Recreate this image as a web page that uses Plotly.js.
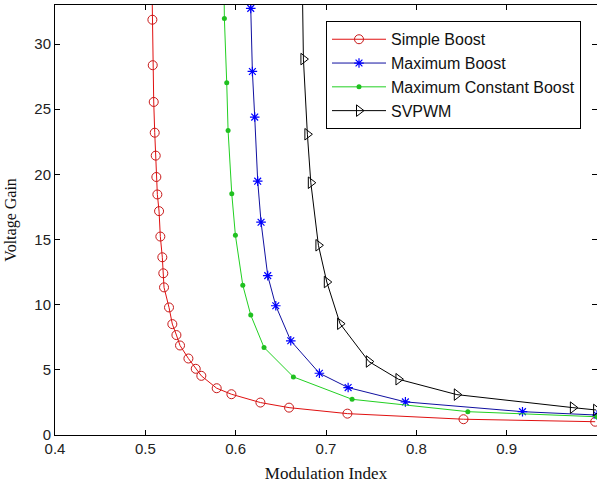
<!DOCTYPE html>
<html>
<head>
<meta charset="utf-8">
<script src="https://cdn.plot.ly/plotly-3.0.1.min.js"></script>
<style>html,body{margin:0;padding:0;background:#fff;}#chart{width:597px;height:484px;}</style>
</head>
<body>
<div id="chart"></div>
<script>
// Simple Boost
var simpleM = [0.5066, 0.5078, 0.5082, 0.5093, 0.5104, 0.5115, 0.5122, 0.5133, 0.5152, 0.5166, 0.5188, 0.5199, 0.5207, 0.5262, 0.5299, 0.5344, 0.5384, 0.5477, 0.5558, 0.562, 0.579, 0.5953, 0.6274, 0.6591, 0.7237, 0.8522, 0.998];
var simpleG = [38, 31.87, 28.38, 25.56, 23.2, 21.44, 19.8, 18.46, 17.18, 15.23, 13.64, 12.41, 11.33, 9.79, 8.51, 7.67, 6.87, 5.87, 5.08, 4.54, 3.59, 3.13, 2.49, 2.1, 1.64, 1.21, 1.02];
// Maximum Boost
var maxM = [0.6155, 0.6167, 0.6185, 0.6211, 0.6244, 0.6281, 0.6355, 0.6444, 0.661, 0.6927, 0.7245, 0.7879, 0.9175, 1.0];
var maxG = [36, 32.74, 27.9, 24.4, 19.48, 16.33, 12.23, 9.92, 7.23, 4.74, 3.64, 2.54, 1.79, 1.53];
// Maximum Constant Boost
var mcbM = [0.5868, 0.5875, 0.5901, 0.5916, 0.5957, 0.5997, 0.6079, 0.6167, 0.6314, 0.6639, 0.7289, 0.857, 1.0];
var mcbG = [36, 31.97, 27.03, 23.36, 18.51, 15.33, 11.49, 9.2, 6.72, 4.46, 2.74, 1.79, 1.4];
// SVPWM
var svM = [0.6735, 0.675, 0.6794, 0.6832, 0.6916, 0.7009, 0.7156, 0.7474, 0.7802, 0.8448, 0.9733, 0.999];
var svG = [36, 28.85, 23.08, 19.36, 14.56, 11.74, 8.54, 5.64, 4.28, 3.1, 2.1, 1.92];

var names = ["Simple Boost", "Maximum Boost", "Maximum Constant Boost", "SVPWM"];

var traces = [
  {x: simpleM, y: simpleG, name: names[0], mode: "lines+markers",
   line: {color: "#e01010", width: 1},
   marker: {symbol: "circle-open", size: 9, color: "#c81818", line: {width: 1}}},
  {x: maxM, y: maxG, name: names[1], mode: "lines+markers",
   line: {color: "#1010a0", width: 1},
   marker: {symbol: "asterisk-open", size: 8, color: "#0000ff", line: {width: 1.2, color: "#0000ee"}}},
  {x: mcbM, y: mcbG, name: names[2], mode: "lines+markers",
   line: {color: "#22d022", width: 1},
   marker: {symbol: "circle", size: 5, color: "#20c020"}},
  {x: svM, y: svG, name: names[3], mode: "lines+markers",
   line: {color: "#000000", width: 1},
   marker: {symbol: "triangle-right-open", size: 10, color: "#000000", line: {width: 1}}}
];

var axisCommon = {
  showline: true, linecolor: "#000", linewidth: 1, mirror: "ticks",
  ticks: "inside", ticklen: 5, tickcolor: "#000", showgrid: false, zeroline: false,
  tickfont: {family: "Liberation Sans, Arial, sans-serif", size: 15, color: "#222"}
};

var layout = {
  width: 597, height: 484,
  margin: {l: 55, r: 0, t: 5, b: 49},
  paper_bgcolor: "#fff", plot_bgcolor: "#fff",
  showlegend: true,
  xaxis: Object.assign({}, axisCommon, {
    range: [0.4, 1.0], dtick: 0.1, tick0: 0.4, automargin: false,
    title: {text: "Modulation Index", standoff: 11,
            font: {family: "Liberation Serif, Times New Roman, serif", size: 17, color: "#111"}}
  }),
  yaxis: Object.assign({}, axisCommon, {
    range: [0, 33], dtick: 5, tick0: 0, automargin: false,
    title: {text: "Voltage Gain", standoff: 13,
            font: {family: "Liberation Serif, Times New Roman, serif", size: 16, color: "#111"}}
  }),
  legend: {
    x: 0.5, y: 0.962, xanchor: "left", yanchor: "top",
    bgcolor: "#fff", bordercolor: "#000", borderwidth: 1,
    font: {family: "Liberation Sans, Arial, sans-serif", size: 16, color: "#111"},
    itemwidth: 54
  }
};

Plotly.newPlot("chart", traces, layout, {displayModeBar: false, staticPlot: true});
</script>
</body>
</html>
